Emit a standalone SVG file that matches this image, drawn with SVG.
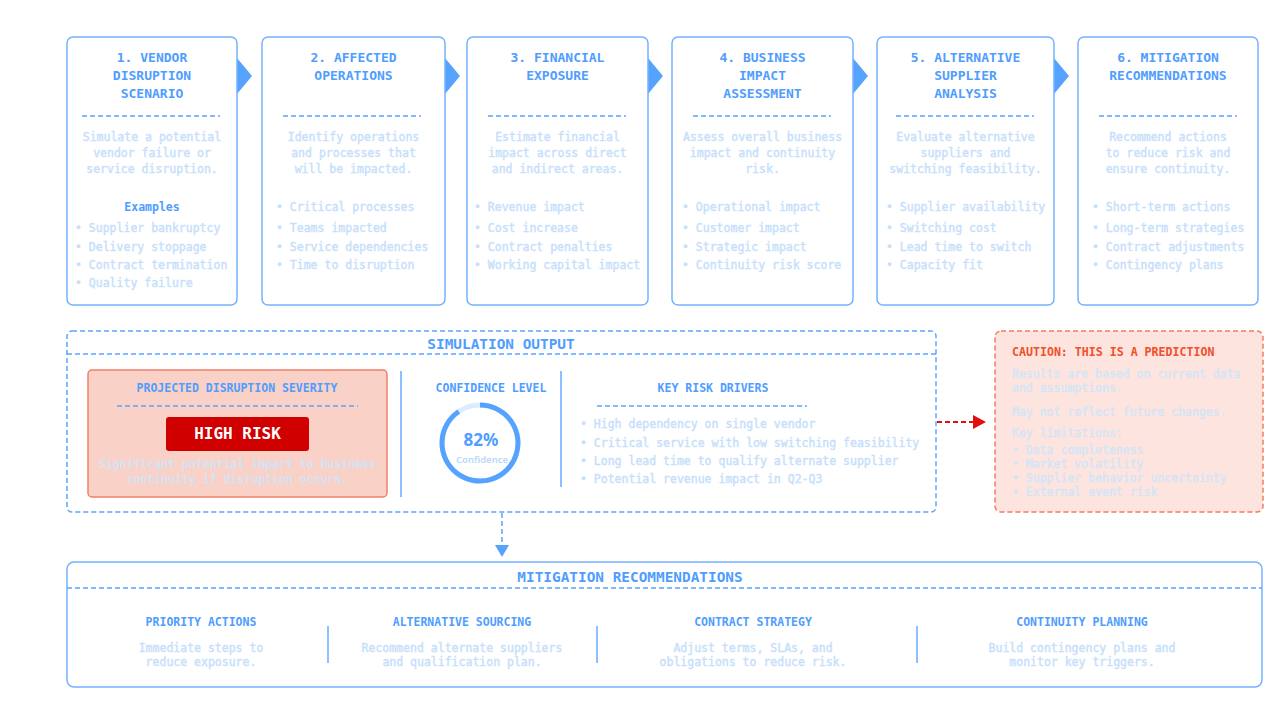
<svg xmlns="http://www.w3.org/2000/svg" width="1284" height="722" viewBox="0 0 1284 722">
<defs>
<style>
text{font-family:"DejaVu Sans Mono","Liberation Mono",monospace;font-weight:bold}
.box{fill:#fff;stroke:#74b3ff;stroke-width:1.5}
.ttl{fill:#4f9dff;font-size:13px;text-anchor:middle}
.hd{fill:#4f9dff;font-size:11.5px;text-anchor:middle}
.big{fill:#4f9dff;font-size:14.4px;text-anchor:middle}
.bd{fill:#c6e0fb;stroke:#c6e0fb;stroke-width:0.4;font-size:11.5px;font-weight:normal}
.pk{fill:#d3e4f8;stroke:#d3e4f8}
.c{text-anchor:middle}
.sep{stroke:#5aa5ff;stroke-width:1.5;stroke-dasharray:5 3;fill:none}
.arr{fill:#56a3ff}
.dv{stroke:#8cc0ff;stroke-width:2}
</style>
</defs>
<rect width="1284" height="722" fill="#fff"/>

<g id="connectors">
<polygon class="arr" points="237,58 252,76 237,94"/>
<polygon class="arr" points="445,58 460,76 445,94"/>
<polygon class="arr" points="648,58 663,76 648,94"/>
<polygon class="arr" points="853,58 868,76 853,94"/>
<polygon class="arr" points="1054,58 1069,76 1054,94"/>
<line x1="937" y1="422" x2="974" y2="422" stroke="#e01010" stroke-width="2" stroke-dasharray="5 3"/>
<polygon points="973,415 986,422 973,429" fill="#e01010"/>
<line x1="502" y1="513" x2="502" y2="545" class="sep"/>
<polygon class="arr" points="495,545 509,545 502,557"/>
</g>

<g id="step1">
<rect class="box" x="67" y="37" width="170" height="268" rx="6"/>
<text class="ttl" x="152" y="62">1. VENDOR</text>
<text class="ttl" x="152" y="80">DISRUPTION</text>
<text class="ttl" x="152" y="98">SCENARIO</text>
<line class="sep" x1="82" y1="116" x2="220" y2="116"/>
<text class="bd c" x="152" y="141">Simulate a potential</text>
<text class="bd c" x="152" y="157">vendor failure or</text>
<text class="bd c" x="152" y="173">service disruption.</text>
<text class="hd" x="152" y="211">Examples</text>
<text class="bd" x="75" y="232">• Supplier bankruptcy</text>
<text class="bd" x="75" y="251">• Delivery stoppage</text>
<text class="bd" x="75" y="269">• Contract termination</text>
<text class="bd" x="75" y="287">• Quality failure</text>
</g>

<g id="step2">
<rect class="box" x="262" y="37" width="183" height="268" rx="6"/>
<text class="ttl" x="353.5" y="62">2. AFFECTED</text>
<text class="ttl" x="353.5" y="80">OPERATIONS</text>
<line class="sep" x1="283" y1="116" x2="421" y2="116"/>
<text class="bd c" x="353.5" y="141">Identify operations</text>
<text class="bd c" x="353.5" y="157">and processes that</text>
<text class="bd c" x="353.5" y="173">will be impacted.</text>
<text class="bd" x="276" y="211">• Critical processes</text>
<text class="bd" x="276" y="232">• Teams impacted</text>
<text class="bd" x="276" y="251">• Service dependencies</text>
<text class="bd" x="276" y="269">• Time to disruption</text>
</g>

<g id="step3">
<rect class="box" x="467" y="37" width="181" height="268" rx="6"/>
<text class="ttl" x="557.5" y="62">3. FINANCIAL</text>
<text class="ttl" x="557.5" y="80">EXPOSURE</text>
<line class="sep" x1="488" y1="116" x2="626" y2="116"/>
<text class="bd c" x="557.5" y="141">Estimate financial</text>
<text class="bd c" x="557.5" y="157">impact across direct</text>
<text class="bd c" x="557.5" y="173">and indirect areas.</text>
<text class="bd" x="474" y="211">• Revenue impact</text>
<text class="bd" x="474" y="232">• Cost increase</text>
<text class="bd" x="474" y="251">• Contract penalties</text>
<text class="bd" x="474" y="269">• Working capital impact</text>
</g>

<g id="step4">
<rect class="box" x="672" y="37" width="181" height="268" rx="6"/>
<text class="ttl" x="762.5" y="62">4. BUSINESS</text>
<text class="ttl" x="762.5" y="80">IMPACT</text>
<text class="ttl" x="762.5" y="98">ASSESSMENT</text>
<line class="sep" x1="693" y1="116" x2="831" y2="116"/>
<text class="bd c" x="762.5" y="141">Assess overall business</text>
<text class="bd c" x="762.5" y="157">impact and continuity</text>
<text class="bd c" x="762.5" y="173">risk.</text>
<text class="bd" x="682" y="211">• Operational impact</text>
<text class="bd" x="682" y="232">• Customer impact</text>
<text class="bd" x="682" y="251">• Strategic impact</text>
<text class="bd" x="682" y="269">• Continuity risk score</text>
</g>

<g id="step5">
<rect class="box" x="877" y="37" width="177" height="268" rx="6"/>
<text class="ttl" x="965.5" y="62">5. ALTERNATIVE</text>
<text class="ttl" x="965.5" y="80">SUPPLIER</text>
<text class="ttl" x="965.5" y="98">ANALYSIS</text>
<line class="sep" x1="896" y1="116" x2="1034" y2="116"/>
<text class="bd c" x="965.5" y="141">Evaluate alternative</text>
<text class="bd c" x="965.5" y="157">suppliers and</text>
<text class="bd c" x="965.5" y="173">switching feasibility.</text>
<text class="bd" x="886" y="211">• Supplier availability</text>
<text class="bd" x="886" y="232">• Switching cost</text>
<text class="bd" x="886" y="251">• Lead time to switch</text>
<text class="bd" x="886" y="269">• Capacity fit</text>
</g>

<g id="step6">
<rect class="box" x="1078" y="37" width="180" height="268" rx="6"/>
<text class="ttl" x="1168" y="62">6. MITIGATION</text>
<text class="ttl" x="1168" y="80">RECOMMENDATIONS</text>
<line class="sep" x1="1099" y1="116" x2="1237" y2="116"/>
<text class="bd c" x="1168" y="141">Recommend actions</text>
<text class="bd c" x="1168" y="157">to reduce risk and</text>
<text class="bd c" x="1168" y="173">ensure continuity.</text>
<text class="bd" x="1092" y="211">• Short-term actions</text>
<text class="bd" x="1092" y="232">• Long-term strategies</text>
<text class="bd" x="1092" y="251">• Contract adjustments</text>
<text class="bd" x="1092" y="269">• Contingency plans</text>
</g>

<g id="simulation-output">
<rect x="67" y="331" width="869" height="181" rx="5" fill="#fff" class="sep"/>
<line class="sep" x1="67" y1="354" x2="936" y2="354"/>
<text class="big" x="501" y="349">SIMULATION OUTPUT</text>
<g id="severity">
<rect x="88" y="370" width="299" height="127" rx="4" fill="#f9d1c6" stroke="#ef8068" stroke-width="1.5"/>
<text class="hd" x="237" y="392">PROJECTED DISRUPTION SEVERITY</text>
<line class="sep" x1="117" y1="406" x2="358" y2="406"/>
<rect x="166" y="417" width="143" height="34" rx="3" fill="#d10000"/>
<text x="237.5" y="439" fill="#fff" font-size="16" text-anchor="middle">HIGH RISK</text>
<text class="bd pk c" x="237.5" y="468" font-size="11.3">Significant potential impact to business</text>
<text class="bd pk c" x="237.5" y="483" font-size="11.3">continuity if disruption occurs.</text>
</g>
<line class="dv" x1="401" y1="371" x2="401" y2="497"/>
<g id="confidence">
<text class="hd" x="491" y="392">CONFIDENCE LEVEL</text>
<circle cx="480" cy="443" r="38" fill="none" stroke="#dcecff" stroke-width="5"/>
<path d="M480,405 A38,38 0 1,1 458.75,411.5" fill="none" stroke="#56a3ff" stroke-width="5"/>
<text x="481" y="446" fill="#4f9dff" font-size="17" text-anchor="middle" style="font-family:'Noto Sans','Liberation Sans',sans-serif">82%</text>
<text x="482" y="463" fill="#b9d8fa" font-size="9.5" text-anchor="middle" style="font-family:'Noto Sans','Liberation Sans',sans-serif;font-weight:600">Confidence</text>
</g>
<line class="dv" x1="561" y1="371" x2="561" y2="487"/>
<g id="drivers">
<text class="hd" x="713" y="392">KEY RISK DRIVERS</text>
<line class="sep" x1="597" y1="406" x2="807" y2="406"/>
<text class="bd" x="580" y="428">• High dependency on single vendor</text>
<text class="bd" x="580" y="447">• Critical service with low switching feasibility</text>
<text class="bd" x="580" y="465">• Long lead time to qualify alternate supplier</text>
<text class="bd" x="580" y="483">• Potential revenue impact in Q2-Q3</text>
</g>
</g>

<g id="caution">
<rect x="995" y="331" width="268" height="181" rx="6" fill="#fde4de" stroke="#f27c5e" stroke-width="1.5" stroke-dasharray="5 3"/>
<text x="1012" y="356" fill="#ef4f2a" font-size="11.6">CAUTION: THIS IS A PREDICTION</text>
<text class="bd pk" x="1012" y="378" font-size="11.6">Results are based on current data</text>
<text class="bd pk" x="1012" y="392" font-size="11.6">and assumptions.</text>
<text class="bd pk" x="1012" y="416" font-size="11.6">May not reflect future changes.</text>
<text class="bd pk" x="1012" y="437" font-size="11.6">Key limitations:</text>
<text class="bd pk" x="1012" y="454" font-size="11.6">• Data completeness</text>
<text class="bd pk" x="1012" y="468" font-size="11.6">• Market volatility</text>
<text class="bd pk" x="1012" y="482" font-size="11.6">• Supplier behavior uncertainty</text>
<text class="bd pk" x="1012" y="496" font-size="11.6">• External event risk</text>
</g>

<g id="mitigation">
<rect class="box" x="67" y="562" width="1195" height="125" rx="7"/>
<line class="sep" x1="67" y1="588" x2="1262" y2="588"/>
<text class="big" x="630" y="582">MITIGATION RECOMMENDATIONS</text>
<text class="hd" x="201" y="626" font-size="12.3">PRIORITY ACTIONS</text>
<text class="bd c" x="201" y="652">Immediate steps to</text>
<text class="bd c" x="201" y="666">reduce exposure.</text>
<line class="dv" x1="328" y1="626" x2="328" y2="663"/>
<text class="hd" x="462" y="626" font-size="12.3">ALTERNATIVE SOURCING</text>
<text class="bd c" x="462" y="652">Recommend alternate suppliers</text>
<text class="bd c" x="462" y="666">and qualification plan.</text>
<line class="dv" x1="597" y1="626" x2="597" y2="663"/>
<text class="hd" x="753" y="626" font-size="12.3">CONTRACT STRATEGY</text>
<text class="bd c" x="753" y="652">Adjust terms, SLAs, and</text>
<text class="bd c" x="753" y="666">obligations to reduce risk.</text>
<line class="dv" x1="917" y1="626" x2="917" y2="663"/>
<text class="hd" x="1082" y="626" font-size="12.3">CONTINUITY PLANNING</text>
<text class="bd c" x="1082" y="652">Build contingency plans and</text>
<text class="bd c" x="1082" y="666">monitor key triggers.</text>
</g>
</svg>
